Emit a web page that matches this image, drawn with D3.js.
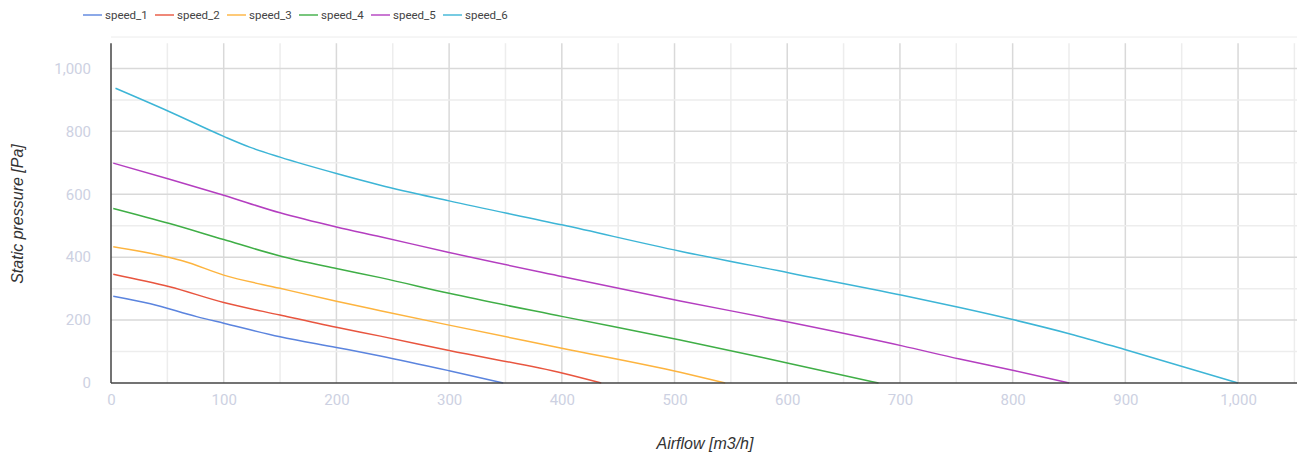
<!DOCTYPE html>
<html>
<head>
<meta charset="utf-8">
<script src="https://cdn.jsdelivr.net/npm/d3@7"></script>
<style>
  body { margin: 0; background: #fff; }
  #chart { width: 1301px; height: 459px; }
</style>
</head>
<body>
<div id="chart"></div>
<script>
// series names and colours
var seriesNames = ["speed_1", "speed_2", "speed_3", "speed_4", "speed_5", "speed_6"];
var seriesColors = ["#5b84de", "#e8553f", "#fdb43f", "#3fae46", "#b43ec0", "#3db5d6"];

// [airflow, pressure] points
var speed_1 = [[2,276],[35,252],[76,211],[100,190],[150,147],[200,113],[239,86],[300,39],[348,0]];
var speed_2 = [[2,346],[52,306],[100,256],[150,216],[200,177],[239,149],[300,103],[401,31],[435,0]];
var speed_3 = [[2,433],[52,399],[64,388],[100,343],[150,301],[200,260],[239,230],[300,184],[401,110],[505,34],[545,0]];
var speed_4 = [[2,555],[52,507],[100,456],[150,404],[200,364],[239,335],[300,285],[401,211],[505,137],[602,62],[681,0]];
var speed_5 = [[2,699],[52,648],[100,597],[150,541],[200,496],[239,465],[300,415],[401,338],[505,261],[602,193],[702,118],[753,76],[802,39],[850,0]];
var speed_6 = [[4,937],[51,864],[100,784],[123,750],[150,718],[200,666],[239,629],[300,579],[401,502],[505,419],[602,350],[702,279],[753,240],[802,200],[851,156],[901,105],[1000,0]];

var xTicks = [0, 100, 200, 300, 400, 500, 600, 700, 800, 900, 1000];
var yTicks = [0, 200, 400, 600, 800, 1000];

window.onload = function() {
  var allSeries = [speed_1, speed_2, speed_3, speed_4, speed_5, speed_6];
  draw(allSeries);
};

function draw(allSeries) {
  var w = 1301;
  var h = 459;
  var left = 111, right = 1297, top = 37, bottom = 383;

  var svg = d3.select("#chart")
    .append("svg")
    .attr("width", w)
    .attr("height", h);

  var xScale = d3.scaleLinear().domain([0, 1050]).range([left, 1294.4]);
  var yScale = d3.scaleLinear().domain([0, 1100]).range([bottom, top]);

  // top border line
  svg.append("line")
    .attr("x1", left).attr("x2", right)
    .attr("y1", yScale(1100)).attr("y2", yScale(1100))
    .style("stroke", "#ececec");

  // vertical grid (major every 100, minor every 50)
  var vGrid = d3.range(50, 1051, 50);
  svg.append("g").selectAll("line")
    .data(vGrid)
    .enter()
    .append("line")
    .attr("x1", d => xScale(d)).attr("x2", d => xScale(d))
    .attr("y1", yScale(1080)).attr("y2", bottom)
    .style("stroke", d => d % 100 === 0 ? "#d9d9d9" : "#ededed")
    .style("stroke-width", 1.5);

  // horizontal grid
  var hGrid = d3.range(100, 1001, 100);
  svg.append("g").selectAll("line")
    .data(hGrid)
    .enter()
    .append("line")
    .attr("x1", left).attr("x2", right)
    .attr("y1", d => yScale(d)).attr("y2", d => yScale(d))
    .style("stroke", d => d % 200 === 0 ? "#d9d9d9" : "#ededed")
    .style("stroke-width", 1.5);

  // lines
  var line = d3.line()
    .x(d => xScale(d[0]))
    .y(d => yScale(d[1]))
    .curve(d3.curveMonotoneX);

  svg.append("g").selectAll("path")
    .data(allSeries)
    .enter()
    .append("path")
    .attr("d", line)
    .style("fill", "none")
    .style("stroke", (d, i) => seriesColors[i])
    .style("stroke-width", 1.5);

  // axis lines
  svg.append("line")
    .attr("x1", left).attr("x2", left)
    .attr("y1", yScale(1080)).attr("y2", bottom)
    .style("stroke", "#444").style("stroke-width", 1.5);
  svg.append("line")
    .attr("x1", left).attr("x2", right)
    .attr("y1", bottom).attr("y2", bottom)
    .style("stroke", "#444").style("stroke-width", 1.5);

  // x axis labels
  var xAxis = svg.append("g")
    .attr("transform", "translate(0," + (bottom + 8) + ")")
    .call(d3.axisBottom(xScale).tickValues(xTicks).tickSize(0).tickFormat(d3.format(",")));
  xAxis.select(".domain").remove();
  xAxis.selectAll("text")
    .style("font-family", "Roboto, sans-serif")
    .style("font-size", "15px")
    .style("fill", "#cdd1e2");

  // y axis labels
  var yAxis = svg.append("g")
    .attr("transform", "translate(" + (left - 17) + ",0)")
    .call(d3.axisLeft(yScale).tickValues(yTicks).tickSize(0).tickFormat(d3.format(",")));
  yAxis.select(".domain").remove();
  yAxis.selectAll("text")
    .style("font-family", "Roboto, sans-serif")
    .style("font-size", "15px")
    .style("fill", "#cdd1e2");

  // axis titles
  svg.append("text")
    .attr("x", (left + right) / 2 + 1)
    .attr("y", 449)
    .attr("text-anchor", "middle")
    .style("font-family", "'Liberation Sans', Arial, sans-serif")
    .style("font-style", "italic")
    .style("font-size", "16px")
    .style("fill", "#333")
    .text("Airflow [m3/h]");

  svg.append("text")
    .attr("text-anchor", "middle")
    .attr("transform", "translate(23," + ((top + bottom) / 2 + 4) + ")rotate(-90)")
    .style("font-family", "'Liberation Sans', Arial, sans-serif")
    .style("font-style", "italic")
    .style("font-size", "16px")
    .style("fill", "#333")
    .text("Static pressure [Pa]");

  // legend
  var legend = svg.append("g")
    .attr("transform", "translate(83,15)");

  var item = legend.selectAll("g")
    .data(seriesNames)
    .enter()
    .append("g")
    .attr("transform", (d, i) => "translate(" + (i * 72) + ",0)");

  item.append("line")
    .attr("x1", 0).attr("x2", 19)
    .attr("y1", 0).attr("y2", 0)
    .style("stroke", (d, i) => seriesColors[i])
    .style("stroke-opacity", 0.7)
    .style("stroke-width", 2);

  item.append("text")
    .attr("x", 22)
    .attr("y", 4)
    .style("font-family", "Roboto, sans-serif")
    .style("font-size", "11.5px")
    .style("fill", "#444")
    .text(d => d);
}
</script>
</body>
</html>
